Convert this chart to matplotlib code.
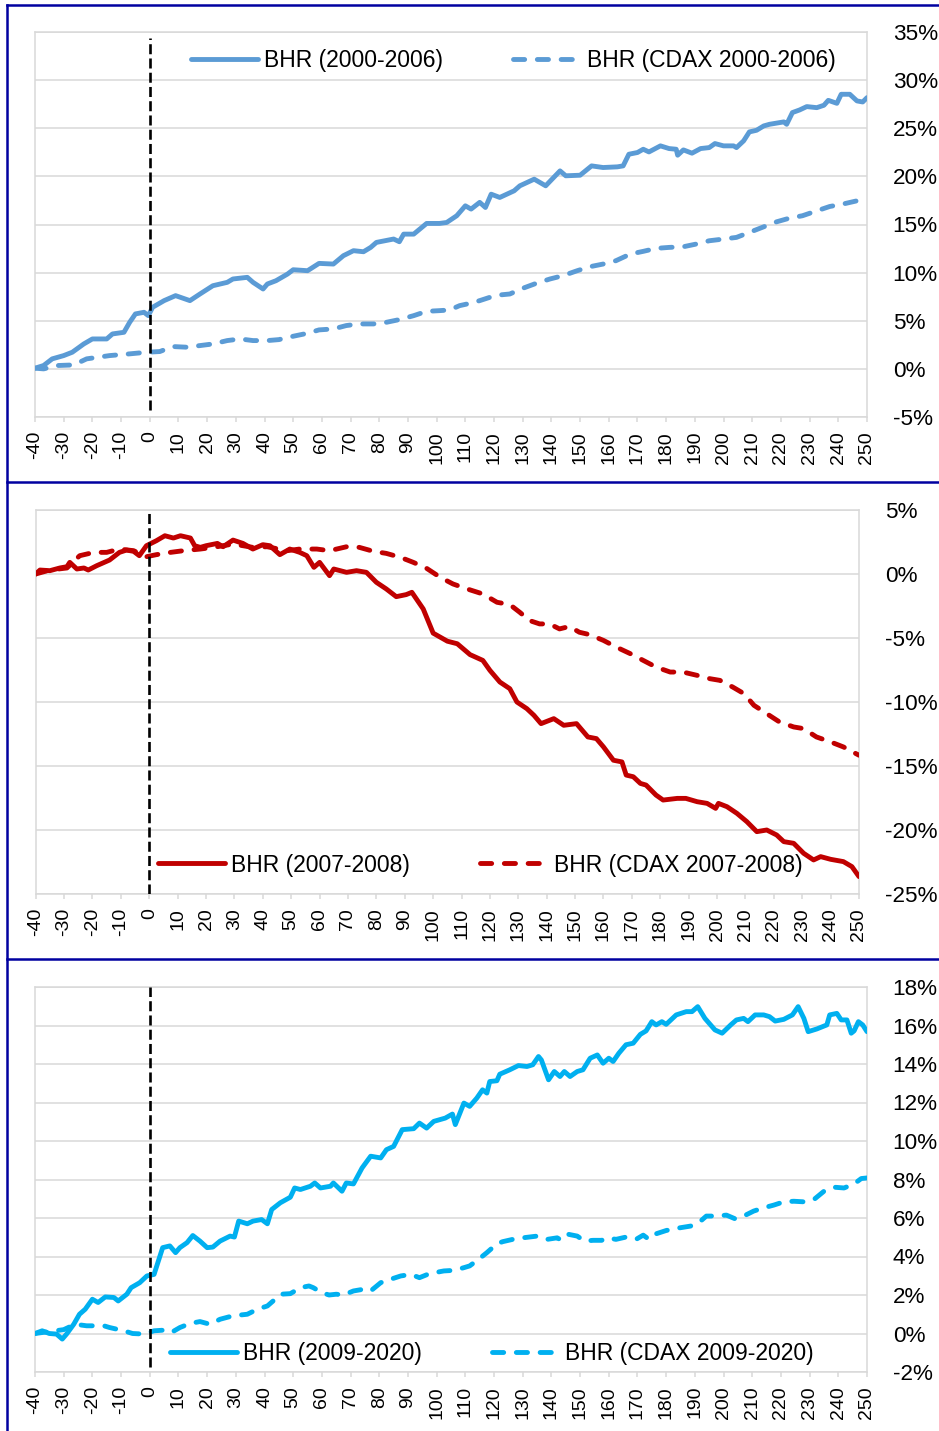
import matplotlib
matplotlib.use("Agg")
import matplotlib.pyplot as plt
from matplotlib.lines import Line2D
from matplotlib.ticker import FuncFormatter, MultipleLocator

plt.rcParams['font.family'] = ['Liberation Sans', 'DejaVu Sans']

# ---- data (BHR in %, event days -40..250) ----
# panel 1: 2000-2006
p1_days_bhr = [-40, -37, -34, -30, -27, -23, -20, -15, -13, -9, -7, -5, -2, -0.5, 1, 5, 9, 14, 17.5, 22, 27, 29, 34,
               36, 39.5, 41, 44, 48, 50, 55, 59, 64, 67.5, 71, 74.5, 77, 79, 85, 87, 88.5, 92, 96.5, 101, 103.5, 107,
               110, 112, 115, 117, 119, 122, 127, 129, 134, 138, 143, 145, 150, 154, 158, 163, 165, 167, 170, 172,
               174, 178, 181, 183.5, 184, 186, 189, 192, 195, 197, 200, 203.5, 204.5, 207, 209, 211.5, 214, 216, 221,
               222, 224, 226.5, 229, 232.5, 235, 236.5, 239.5, 241, 244, 246.5, 248.5, 250]
p1_bhr = [0.07, 0.35, 1.04, 1.38, 1.73, 2.59, 3.11, 3.11, 3.63, 3.80, 4.84, 5.71, 5.88, 5.53, 6.40, 7.09, 7.61, 7.09,
          7.78, 8.64, 8.99, 9.34, 9.51, 8.99, 8.30, 8.82, 9.16, 9.85, 10.30, 10.20, 10.96, 10.89, 11.76, 12.28, 12.17,
          12.62, 13.14, 13.49, 13.21, 14.00, 14.00, 15.11, 15.11, 15.21, 15.91, 16.94, 16.6, 17.3, 16.77, 18.15, 17.81,
          18.50, 19.02, 19.71, 19.02, 20.57, 20.06, 20.12, 21.09, 20.92, 20.99, 21.09, 22.30, 22.48, 22.82, 22.54,
          23.17, 22.89, 22.82, 22.20, 22.75, 22.41, 22.89, 22.99, 23.41, 23.17, 23.17, 22.99, 23.69, 24.62, 24.79,
          25.24, 25.41, 25.66, 25.41, 26.63, 26.90, 27.25, 27.14, 27.39, 27.90, 27.59, 28.53, 28.53, 27.84, 27.73,
          28.18]
p1_days_cdax = [-40, -37, -32, -26.5, -22, -14, -7, -1, 3.5, 8, 13, 17.5, 22, 27, 31.5, 36, 41, 45, 50, 55, 59, 64,
                68.5, 73, 78, 82.5, 87, 92, 96.5, 101, 104.5, 108, 111.5, 115, 118.5, 122, 125.5, 130, 135, 139.5, 144,
                149, 153.5, 158, 162.5, 167.5, 172, 176.5, 181, 186, 190.5, 195, 200, 204.5, 209, 214, 218.5, 223,
                227.5, 232.5, 237, 241.5, 246.5, 250]
p1_cdax = [0.07, 0.0, 0.35, 0.41, 1.04, 1.38, 1.56, 1.73, 1.80, 2.32, 2.25, 2.42, 2.59, 2.94, 3.11, 2.94, 2.94, 3.04,
           3.39, 3.70, 4.05, 4.15, 4.50, 4.67, 4.67, 4.84, 5.12, 5.53, 5.98, 6.05, 6.12, 6.57, 6.80, 7.09, 7.43, 7.68,
           7.78, 8.37, 8.92, 9.34, 9.68, 10.20, 10.62, 10.89, 11.24, 11.93, 12.21, 12.52, 12.62, 12.69, 12.97, 13.31,
           13.49, 13.66, 14.18, 14.76, 15.28, 15.66, 15.91, 16.42, 16.87, 17.12, 17.46, 17.81]

# panel 2: 2007-2008
p2_days_bhr = [-40, -38.5, -35, -31.5, -29, -28, -25.5, -23, -21.5, -18.5, -14, -10.5, -8, -5.5, -3.5, -1, 2.5, 5.5,
               8.5, 11, 14.5, 16, 18, 20, 24, 26, 29.5, 33, 36.5, 40, 42.5, 46, 49.5, 53, 55.5, 58, 60, 63.5, 65,
               69.5, 73, 76.5, 80, 83.5, 87, 90.5, 92.5, 96.5, 100, 105, 108.5, 113, 117.5, 120, 123.5, 127, 129.5,
               133, 135.5, 138, 142.5, 146, 150.5, 154.5, 157.5, 160, 163.5, 166.5, 168, 170.5, 173, 175, 178.5, 181,
               186, 189, 193, 196.5, 199.5, 200.5, 203.5, 207, 210.5, 214, 217.5, 221, 223.5, 227, 230.5, 234, 236.5,
               240, 244.5, 247.5, 250]
p2_bhr = [0.0, 0.31, 0.26, 0.47, 0.57, 0.91, 0.39, 0.47, 0.31, 0.65, 1.09, 1.69, 1.87, 1.77, 1.43, 2.21, 2.60, 2.99,
          2.81, 2.99, 2.81, 2.21, 2.08, 2.21, 2.39, 2.13, 2.65, 2.39, 1.95, 2.29, 2.21, 1.51, 1.95, 1.69, 1.43, 0.52,
          0.91, -0.13, 0.39, 0.13, 0.26, 0.13, -0.65, -1.17, -1.77, -1.61, -1.43, -2.73, -4.62, -5.25, -5.45, -6.30,
          -6.75, -7.53, -8.44, -8.96, -10.0, -10.52, -11.04, -11.69, -11.30, -11.82, -11.69, -12.73, -12.86, -13.51,
          -14.55, -14.68, -15.71, -15.84, -16.36, -16.49, -17.27, -17.66, -17.53, -17.53, -17.79, -17.92, -18.31,
          -17.92, -18.18, -18.70, -19.35, -20.13, -20.00, -20.39, -20.91, -21.04, -21.82, -22.34, -22.08, -22.29,
          -22.47, -22.86, -23.64]
p2_days_cdax = [-40, -35, -29, -24.5, -19.5, -15, -10.5, -5.5, -1, 2.5, 7.5, 12, 18, 22.5, 29.5, 36.5, 41.5, 48.5,
                53, 59, 63.5, 69.5, 74, 79, 83.5, 88.5, 93, 97.5, 102.5, 107, 112, 117.5, 122.5, 127, 130.5, 134,
                137.5, 141, 144.5, 148, 151.5, 155, 160, 164.5, 169.5, 174, 178.5, 183.5, 188, 193, 197.5, 201, 205.5,
                209.5, 213, 217.5, 222, 227, 230.5, 235, 240, 244.5, 250]
p2_cdax = [0.0, 0.31, 0.47, 1.43, 1.69, 1.69, 1.95, 1.82, 1.35, 1.51, 1.69, 1.82, 1.95, 2.08, 2.34, 2.08, 2.13, 1.82,
           1.95, 1.95, 1.82, 2.13, 2.08, 1.77, 1.61, 1.30, 0.91, 0.47, -0.26, -0.78, -1.17, -1.56, -2.21, -2.39,
           -2.99, -3.64, -3.90, -3.90, -4.29, -4.10, -4.55, -4.73, -5.19, -5.71, -6.23, -6.75, -7.27, -7.66, -7.66,
           -7.92, -8.18, -8.31, -8.83, -9.35, -10.26, -10.91, -11.56, -11.95, -12.08, -12.73, -13.12, -13.51, -14.16]

# panel 3: 2009-2020
p3_days_bhr = [-40, -37.5, -35, -32.5, -30.5, -29, -26.5, -24.5, -22.5, -20, -18, -15.5, -12.5, -11, -8, -6.5, -3.5,
               -1, 1.5, 4.5, 7, 9, 10.5, 13, 15, 17.5, 20, 22, 24.5, 28, 29.5, 31, 34, 36, 39, 41, 42.5, 45.5, 49,
               50.5, 52.5, 56, 57.5, 59.5, 63, 64, 67, 68.5, 71, 74, 77, 80.5, 82.5, 85, 88, 92, 94, 96.5, 99, 103,
               105.5, 106.5, 109.5, 111.5, 114, 116, 117.5, 118.5, 121, 122, 125.5, 128.5, 131.5, 133.5, 135.5, 136.5,
               139, 141, 143, 144.5, 146.5, 149, 151, 153.5, 156, 158, 160, 161.5, 163.5, 166, 168.5, 171, 173, 175,
               176.5, 178.5, 180, 183.5, 187, 189, 191, 193.5, 197, 199.5, 202.5, 204.5, 207, 208.5, 211, 214, 216,
               218, 221, 224, 226, 228, 229.5, 232.5, 236, 237, 239.5, 241, 243, 244.5, 245.5, 247, 248.5, 250]
p3_bhr = [0.0, 0.14, 0.0, -0.03, -0.29, -0.03, 0.48, 1.00, 1.26, 1.78, 1.61, 1.90, 1.87, 1.69, 2.04, 2.38, 2.64, 2.99,
          3.07, 4.46, 4.55, 4.20, 4.46, 4.72, 5.09, 4.80, 4.46, 4.49, 4.80, 5.06, 5.01, 5.84, 5.70, 5.84, 5.92, 5.70,
          6.44, 6.79, 7.08, 7.56, 7.48, 7.65, 7.82, 7.56, 7.65, 7.82, 7.39, 7.82, 7.77, 8.60, 9.21, 9.12, 9.55, 9.72,
          10.59, 10.64, 10.93, 10.67, 11.02, 11.19, 11.40, 10.85, 11.97, 11.80, 12.23, 12.66, 12.49, 13.09, 13.13,
          13.47, 13.70, 13.92, 13.87, 13.96, 14.39, 14.21, 13.18, 13.61, 13.35, 13.61, 13.35, 13.61, 13.70, 14.30,
          14.47, 14.04, 14.30, 14.13, 14.56, 15.00, 15.08, 15.54, 15.72, 16.20, 16.03, 16.20, 16.06, 16.55, 16.72,
          16.72, 16.98, 16.37, 15.77, 15.60, 16.03, 16.29, 16.37, 16.20, 16.55, 16.55, 16.46, 16.23, 16.32, 16.55,
          16.98, 16.37, 15.68, 15.82, 16.03, 16.55, 16.63, 16.29, 16.29, 15.60, 15.72, 16.20, 16.03, 15.68]
p3_days_cdax = [-40, -35, -30, -26, -22, -16, -14, -9, -6, -2, 1.5, 4.5, 7.5, 10.5, 14, 17.5, 21, 24.5, 29, 34, 37.5,
                41, 43, 45.5, 49, 52.5, 55.5, 57, 60, 62.5, 65, 67.5, 71, 74.5, 77, 80.5, 84, 87.5, 91, 94, 97.5,
                102.5, 106, 109.5, 111.5, 115, 117.5, 121, 123, 126.5, 130, 135, 138.5, 142, 143.5, 146, 149, 151.5,
                154.5, 157.5, 159.5, 162.5, 166, 169.5, 172, 174, 176.5, 180, 183.5, 188.5, 192, 194, 197.5, 201,
                204, 207, 210.5, 214, 217.5, 221, 224.5, 228, 231.5, 235, 238.5, 242, 245.5, 248, 250]
p3_cdax = [0.0, 0.10, 0.20, 0.48, 0.40, 0.40, 0.31, 0.14, 0.0, -0.03, 0.14, 0.17, 0.05, 0.31, 0.52, 0.62, 0.48, 0.74,
           0.92, 1.00, 1.26, 1.43, 1.69, 2.04, 2.07, 2.38, 2.47, 2.38, 2.12, 2.00, 2.04, 2.00, 2.21, 2.30, 2.21, 2.64,
           2.82, 2.99, 3.07, 2.90, 3.11, 3.25, 3.28, 3.42, 3.51, 3.90, 4.20, 4.66, 4.77, 4.89, 4.97, 5.06, 4.89, 4.97,
           4.84, 5.15, 5.06, 4.80, 4.84, 4.84, 4.97, 4.89, 5.01, 4.89, 5.11, 4.89, 5.18, 5.35, 5.46, 5.58, 5.84,
           6.10, 6.10, 6.15, 5.96, 6.10, 6.36, 6.53, 6.67, 6.84, 6.87, 6.84, 6.96, 7.39, 7.60, 7.56, 7.77, 8.05, 8.08]

x_ticks = list(range(-40, 251, 10))

panels = [
    dict(days_bhr=p1_days_bhr, bhr=p1_bhr, days_cdax=p1_days_cdax, cdax=p1_cdax, color='#5B9BD5',
         labels=['BHR (2000-2006)', 'BHR (CDAX 2000-2006)'], ylim=(-5, 35), ystep=5,
         rect=[35, 32, 867, 417], leg=(0.5745, 0.927), vline=(0.018, 0.984)),
    dict(days_bhr=p2_days_bhr, bhr=p2_bhr, days_cdax=p2_days_cdax, cdax=p2_cdax, color='#C00000',
         labels=['BHR (2007-2008)', 'BHR (CDAX 2007-2008)'], ylim=(-25, 5), ystep=5,
         rect=[35.7, 510, 859, 894], leg=(0.5397, 0.0755), vline=(0.0, 1.0)),
    dict(days_bhr=p3_days_bhr, bhr=p3_bhr, days_cdax=p3_days_cdax, cdax=p3_cdax, color='#00B0F0',
         labels=['BHR (2009-2020)', 'BHR (CDAX 2009-2020)'], ylim=(-2, 18), ystep=2,
         rect=[35, 987, 867, 1372], leg=(0.549, 0.049), vline=(0.013, 1.0)),
]

W, H = 939, 1431
fig = plt.figure(figsize=(W / 100, H / 100), dpi=100)
grid_col = '#D9D9D9'

for p in panels:
    x0, y0, x1, y1 = p['rect']
    ax = fig.add_axes([x0 / W, 1 - y1 / H, (x1 - x0) / W, (y1 - y0) / H])

    ax.plot(p['days_bhr'], p['bhr'], color=p['color'], lw=3.5, solid_joinstyle='round',
            solid_capstyle='round', label=p['labels'][0], zorder=3)
    ax.plot(p['days_cdax'], p['cdax'], color=p['color'], lw=3.5, linestyle=(0, (2.3, 2.6)),
            dash_capstyle='round', dash_joinstyle='round', label=p['labels'][1], zorder=3)
    ax.axvline(0, ymin=p['vline'][0], ymax=p['vline'][1], color='black', lw=1.9,
               linestyle=(0, (3.8, 1.6)), zorder=4)

    ax.set_xlim(-40, 250)
    ax.set_ylim(*p['ylim'])
    ax.set_xticks(x_ticks)
    ax.set_xticklabels([str(t) for t in x_ticks], rotation=90, fontsize=14)
    ax.yaxis.set_major_locator(MultipleLocator(p['ystep']))
    ax.yaxis.set_major_formatter(FuncFormatter(lambda v, pos: '%d%%' % round(v)))

    ax.tick_params(axis='x', direction='out', length=3.5, width=1.1, color=grid_col, pad=6.5)
    ax.tick_params(axis='y', left=False, labelleft=False, right=False, labelright=True,
                   labelsize=16.2, pad=15)
    for lab in ax.get_yticklabels():
        lab.set_horizontalalignment('left')

    ax.grid(axis='y', color=grid_col, lw=1.1, zorder=0)
    ax.set_axisbelow(True)
    for s in ax.spines.values():
        s.set_color(grid_col)
        s.set_linewidth(1.1)

    ax.legend(loc='center', bbox_to_anchor=p['leg'], ncol=2, frameon=False, fontsize=16.5,
              handlelength=2.95, handletextpad=0.26, columnspacing=3.05, borderpad=0.2)

# dark blue panel frames
frame_col = '#0000A0'
for yy in [5, 482, 959]:
    fig.add_artist(Line2D([7 / W, 1.0], [1 - yy / H, 1 - yy / H], color=frame_col, lw=1.8,
                          transform=fig.transFigure))
fig.add_artist(Line2D([7 / W, 7 / W], [1 - 5 / H, 0.0], color=frame_col, lw=1.8,
                      transform=fig.transFigure))

fig.savefig('out.png', dpi=100, facecolor='white')
